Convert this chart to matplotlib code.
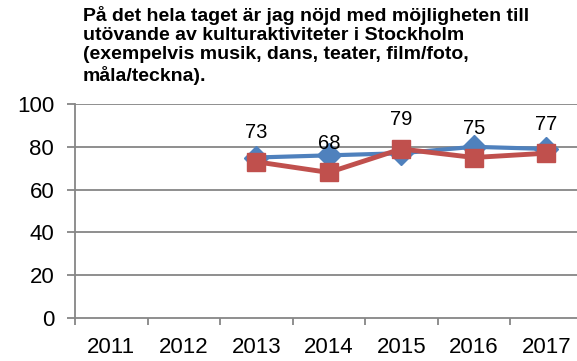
import matplotlib.pyplot as plt

plt.rcParams['font.family'] = ['Liberation Sans', 'DejaVu Sans']

years = ['2011', '2012', '2013', '2014', '2015', '2016', '2017']
# first two years have no data
blue_years = [2, 3, 4, 5, 6]
blue_vals = [75, 76, 77, 80, 79]
red_vals = [73, 68, 79, 75, 77]

title = ('På det hela taget är jag nöjd med möjligheten till\n'
         'utövande av kulturaktiviteter i Stockholm\n'
         '(exempelvis musik, dans, teater, film/foto,\n'
         'måla/teckna).')

fig = plt.figure(figsize=(5.77, 3.61), dpi=100)
ax = fig.add_axes([75 / 577, 43 / 361, 507.5 / 577, 214 / 361])

grid_col = '#868686'
for v in [20, 40, 60, 80, 100]:
    ax.axhline(v, color=grid_col, lw=1.3, zorder=0)

ax.plot(blue_years, blue_vals, color='#4F81BD', lw=3, marker='D',
        markersize=12, zorder=3, clip_on=False)
ax.plot(blue_years, red_vals, color='#C0504D', lw=3.5, marker='s',
        markersize=13, zorder=4, clip_on=False)

for x, v in zip(blue_years, red_vals):
    ax.annotate(str(v), (x, v), xytext=(0, 14), textcoords='offset points',
                ha='center', va='bottom', fontsize=14.5)

ax.set_xlim(-0.5, 6.5)
ax.set_ylim(0, 100)
ax.set_yticks([0, 20, 40, 60, 80, 100])
ax.set_xticks(range(len(years)))
ax.set_xticklabels(years)
ax.set_xticks([i - 0.5 for i in range(len(years) + 1)], minor=True)
ax.tick_params(axis='x', which='major', length=0, labelsize=16, pad=14)
ax.tick_params(axis='x', which='minor', length=5, width=1.3, color=grid_col)
ax.tick_params(axis='y', length=6, width=1.3, color=grid_col, labelsize=16, pad=9)

for s in ['top', 'right']:
    ax.spines[s].set_visible(False)
for s in ['left', 'bottom']:
    ax.spines[s].set_color(grid_col)
    ax.spines[s].set_linewidth(1.3)

fig.text(83 / 577, 1 - 6 / 361, title, ha='left', va='top', fontsize=14,
         fontweight='bold', linespacing=1.17)

fig.savefig('out.png', dpi=100)
